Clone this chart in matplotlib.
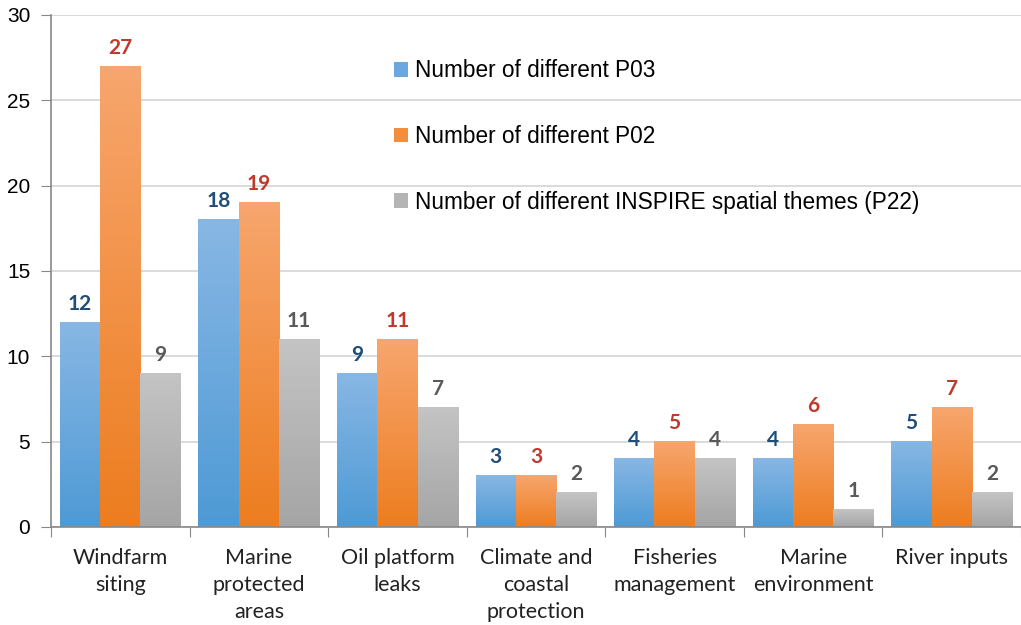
import numpy as np
import matplotlib
matplotlib.use('Agg')
import matplotlib.pyplot as plt
from matplotlib.patches import Patch
from matplotlib.colors import LinearSegmentedColormap

categories = ['Windfarm\nsiting', 'Marine\nprotected\nareas', 'Oil platform\nleaks',
              'Climate and\ncoastal\nprotection', 'Fisheries\nmanagement', 'Marine\nenvironment',
              'River inputs']
p03 = [12, 18, 9, 3, 4, 4, 5]
p02 = [27, 19, 11, 3, 5, 6, 7]
p22 = [9, 11, 7, 2, 4, 1, 2]
series_names = ['Number of different P03', 'Number of different P02',
                'Number of different INSPIRE spatial themes (P22)']

# gradient colours (top, bottom) and label colours
grads = [('#88b7e4', '#4e9ad5'), ('#f7a66e', '#ed7d1f'), ('#c4c4c4', '#a5a5a5')]
legend_cols = ['#6aa8df', '#f28e3e', '#b4b4b4']
label_cols = ['#1f4e79', '#c0392b', '#595959']

fig = plt.figure(figsize=(10.21, 6.25), dpi=100)
ax = fig.add_axes([51 / 1021, 98 / 625, 970 / 1021, 512 / 625])

x = np.arange(len(categories))
w = 0.291
grad = np.linspace(0, 1, 256).reshape(-1, 1)

for i, vals in enumerate([p03, p02, p22]):
    cmap = LinearSegmentedColormap.from_list('g%d' % i, [grads[i][1], grads[i][0]])
    for xi, v in zip(x, vals):
        x0 = xi - 1.5 * w + i * w
        ax.imshow(grad, extent=(x0, x0 + w, 0, v), origin='lower', cmap=cmap,
                  aspect='auto', zorder=2, interpolation='bilinear')
        ax.text(x0 + w / 2, v + 0.5, str(v), ha='center', va='bottom', fontsize=15,
                fontweight='bold', color=label_cols[i], family='Lato', zorder=3)

ax.set_xlim(-0.5, len(categories) - 0.5)
ax.set_ylim(0, 30)
ax.set_yticks(range(0, 31, 5))
ax.set_xticks(np.arange(-0.5, len(categories), 1.0))
ax.set_xticklabels([])
ax.set_xticks(x, minor=True)
ax.set_xticklabels(categories, minor=True, fontsize=15.5, family='Lato', color='#222222',
                   linespacing=1.45)
ax.tick_params(axis='x', which='minor', length=0, pad=15)
ax.tick_params(axis='x', which='major', length=7, color='#888888', direction='out')
ax.tick_params(axis='y', length=7, color='#888888', labelsize=15, pad=8)
for lab in ax.get_yticklabels():
    lab.set_family('Liberation Sans')

ax.grid(axis='y', color='#d4d4d4', lw=1.2, zorder=0)
ax.set_axisbelow(True)
for s in ['top', 'right']:
    ax.spines[s].set_visible(False)
ax.spines['left'].set_color('#888888')
ax.spines['bottom'].set_color('#888888')
ax.spines['left'].set_linewidth(1.2)
ax.spines['bottom'].set_linewidth(1.2)

handles = [Patch(facecolor=c, edgecolor='none') for c in legend_cols]
ax.legend(handles, series_names, loc='upper left', bbox_to_anchor=(0.333, 0.953),
          frameon=False, prop={'family': 'Liberation Sans', 'size': 16.3},
          handlelength=0.6, handleheight=0.6, handletextpad=0.3, labelspacing=1.88)

fig.savefig('out.png', dpi=100)
